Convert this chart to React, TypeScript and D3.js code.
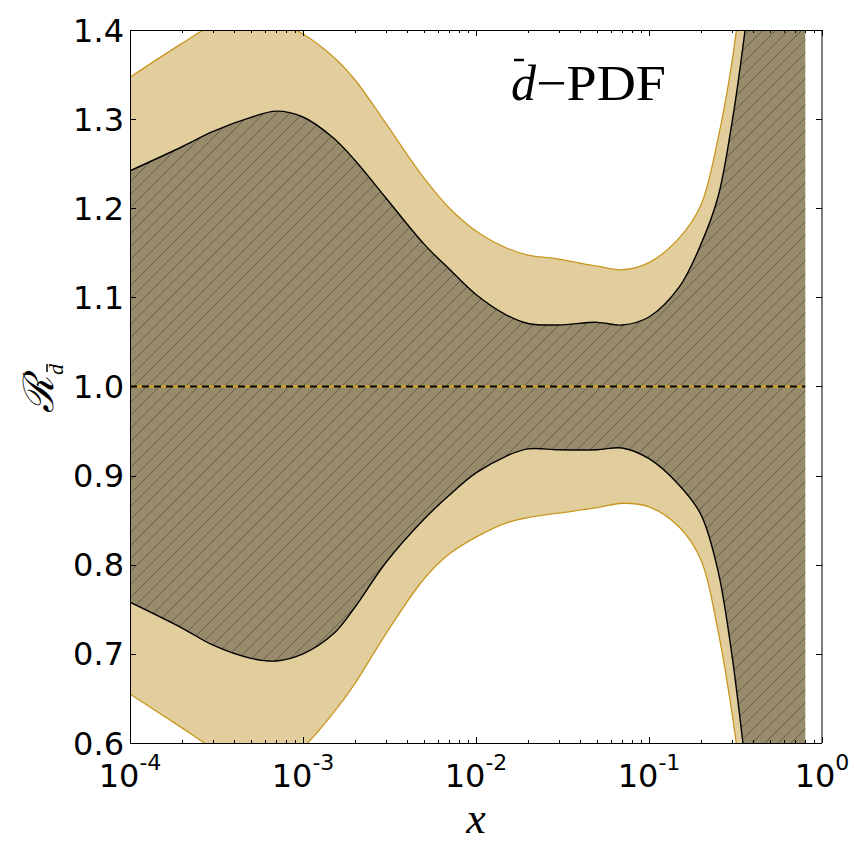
import React from 'react';
import * as d3 from 'd3';

const xValues = [1e-4, 2e-4, 3e-4, 5e-4, 7e-4, 1e-3, 1.5e-3, 2e-3, 3e-3, 5e-3, 7e-3, 1e-2, 1.5e-2, 2e-2, 3e-2, 5e-2, 7e-2, 0.1, 0.15, 0.2, 0.25, 0.3, 0.35, 0.4, 0.5, 0.6, 0.8];
const outerUpper = [1.347, 1.385, 1.405, 1.414, 1.409, 1.3955, 1.3697, 1.3439, 1.2957, 1.234, 1.2003, 1.1745, 1.1554, 1.1475, 1.143, 1.135, 1.131, 1.139, 1.167, 1.204, 1.277, 1.361, 1.46, 1.56, 1.8, 2.0, 2.5];
const outerLower = [0.655, 0.617, 0.595, 0.58, 0.578, 0.5955, 0.634, 0.667, 0.722, 0.784, 0.812, 0.831, 0.847, 0.853, 0.858, 0.864, 0.869, 0.865, 0.842, 0.805, 0.727, 0.637, 0.54, 0.44, 0.2, 0.0, -0.5];
const innerUpper = [1.242, 1.269, 1.286, 1.302, 1.309, 1.3024, 1.2788, 1.2536, 1.2121, 1.16, 1.1318, 1.1032, 1.0802, 1.0707, 1.069, 1.072, 1.069, 1.078, 1.112, 1.16, 1.212, 1.293, 1.383, 1.48, 1.7, 1.9, 2.4];
const innerLower = [0.758, 0.729, 0.71, 0.695, 0.692, 0.7, 0.7225, 0.7526, 0.802, 0.851, 0.878, 0.903, 0.922, 0.93, 0.929, 0.929, 0.931, 0.919, 0.889, 0.856, 0.794, 0.702, 0.598, 0.5, 0.3, 0.1, -0.4];
const yTicks = [0.6, 0.7, 0.8, 0.9, 1.0, 1.1, 1.2, 1.3, 1.4];
const xMajorTicks = [1e-4, 1e-3, 1e-2, 1e-1, 1];
const xTickExponents = ['-4', '-3', '-2', '-1', '0'];
const referenceValue = 1.0;
const titleText = '\u2212PDF';

export default function App() {
  const W = 854, H = 845;
  const left = 130, right = 822, top = 30, bottom = 743;
  const x = d3.scaleLog().domain([1e-4, 1]).range([left, right]);
  const y = d3.scaleLinear().domain([0.6, 1.4]).range([bottom, top]);
  const idx = xValues.map((_, i) => i);
  const curve = d3.curveCatmullRom.alpha(0.5);
  const area = (lo: number[], hi: number[]) =>
    d3.area<number>().x(i => x(xValues[i])).y0(i => y(lo[i])).y1(i => y(hi[i])).curve(curve)(idx) || '';
  const line = (v: number[]) =>
    d3.line<number>().x(i => x(xValues[i])).y(i => y(v[i])).curve(curve)(idx) || '';

  const minorTicks: number[] = [];
  for (let e = -4; e <= -1; e++) for (let k = 2; k <= 9; k++) minorTicks.push(k * Math.pow(10, e));

  const xEnd = xValues[xValues.length - 1];
  const tickFont = "'DejaVu Sans', sans-serif";

  return (
    <svg width={W} height={H} style={{ position: 'absolute', left: 0, top: 0, background: '#fff' }}>
      <defs>
        <clipPath id="plotClip">
          <rect x={left} y={top} width={right - left} height={bottom - top} />
        </clipPath>
        <pattern id="hatch" patternUnits="userSpaceOnUse" width={13} height={13}>
          <path d="M0,13 L13,0 M-3,3 L3,-3 M10,16 L16,10" stroke="#675d49" strokeWidth={1} />
        </pattern>
      </defs>
      <g clipPath="url(#plotClip)">
        <path d={area(outerLower, outerUpper)} fill="#e2ce9c" />
        <path d={line(outerUpper)} fill="none" stroke="#c8961e" strokeWidth={1.3} />
        <path d={line(outerLower)} fill="none" stroke="#c8961e" strokeWidth={1.3} />
        <path d={area(innerLower, innerUpper)} fill="#988b6c" />
        <path d={area(innerLower, innerUpper)} fill="url(#hatch)" />
        <path d={line(innerUpper)} fill="none" stroke="#000" strokeWidth={1.4} />
        <path d={line(innerLower)} fill="none" stroke="#000" strokeWidth={1.4} />
        <line x1={x(1e-4)} x2={x(xEnd)} y1={y(referenceValue)} y2={y(referenceValue)} stroke="#daa520" strokeWidth={2} />
        <line x1={x(1e-4)} x2={x(xEnd)} y1={y(referenceValue)} y2={y(referenceValue)} stroke="#000" strokeWidth={2} strokeDasharray="7,5" />
      </g>
      {/* frame */}
      <line x1={left + 0.5} x2={left + 0.5} y1={top} y2={bottom} stroke="#000" strokeWidth={1} />
      <line x1={right} x2={right} y1={top} y2={bottom} stroke="#000" strokeWidth={1} />
      <line x1={left} x2={right} y1={top + 0.5} y2={top + 0.5} stroke="#000" strokeWidth={1} />
      <line x1={left} x2={right} y1={bottom + 0.5} y2={bottom + 0.5} stroke="#000" strokeWidth={1} />
      {/* y ticks */}
      {yTicks.map(t => (
        <g key={'y' + t}>
          <line x1={left} x2={left + 6} y1={Math.round(y(t)) + 0.5} y2={Math.round(y(t)) + 0.5} stroke="#000" />
          <line x1={right} x2={right - 6} y1={Math.round(y(t)) + 0.5} y2={Math.round(y(t)) + 0.5} stroke="#000" />
          <text x={124} y={y(t)} dy="0.36em" textAnchor="end" fontFamily={tickFont} fontSize={32} fill="#000">
            {t.toFixed(1)}
          </text>
        </g>
      ))}
      {/* x ticks */}
      {xMajorTicks.map((t, i) => (
        <g key={'x' + t}>
          <line x1={Math.round(x(t)) + 0.5} x2={Math.round(x(t)) + 0.5} y1={bottom} y2={bottom - 6} stroke="#000" />
          <line x1={Math.round(x(t)) + 0.5} x2={Math.round(x(t)) + 0.5} y1={top} y2={top + 6} stroke="#000" />
          <text x={x(t)} y={787} textAnchor="middle" fontFamily={tickFont} fontSize={32} fill="#000">
            10<tspan fontSize={22} dy={-17}>{xTickExponents[i]}</tspan>
          </text>
        </g>
      ))}
      {minorTicks.map(t => (
        <g key={'m' + t}>
          <line x1={Math.round(x(t)) + 0.5} x2={Math.round(x(t)) + 0.5} y1={bottom} y2={bottom - 3} stroke="#000" />
          <line x1={Math.round(x(t)) + 0.5} x2={Math.round(x(t)) + 0.5} y1={top} y2={top + 3} stroke="#000" />
        </g>
      ))}
      {/* x label */}
      <text x={476} y={833} textAnchor="middle" fontFamily="'Liberation Serif', serif" fontStyle="italic" fontSize={44} fill="#000">x</text>
      {/* y label */}
      <g transform="translate(53,413) rotate(-90)">
        <text x={0} y={0} fontFamily="'DejaVu Serif', serif" fontStyle="italic" fontSize={42} fill="#000">{'\u211B'}</text>
        <text x={38} y={10} fontFamily="'Liberation Serif', serif" fontStyle="italic" fontSize={22} fill="#000">d</text>
        <line x1={41} x2={49} y1={-6} y2={-6} stroke="#000" strokeWidth={1.5} />
      </g>
      {/* title */}
      <text x={511} y={100} fontFamily="'Liberation Serif', serif" fontStyle="italic" fontSize={50} fill="#000">d</text>
      <line x1={514} x2={524} y1={60} y2={60} stroke="#000" strokeWidth={2.5} />
      <text x={536} y={100} fontFamily="'Liberation Serif', serif" fontSize={50} fill="#000" textLength={130} lengthAdjust="spacingAndGlyphs">{titleText}</text>
    </svg>
  );
}
